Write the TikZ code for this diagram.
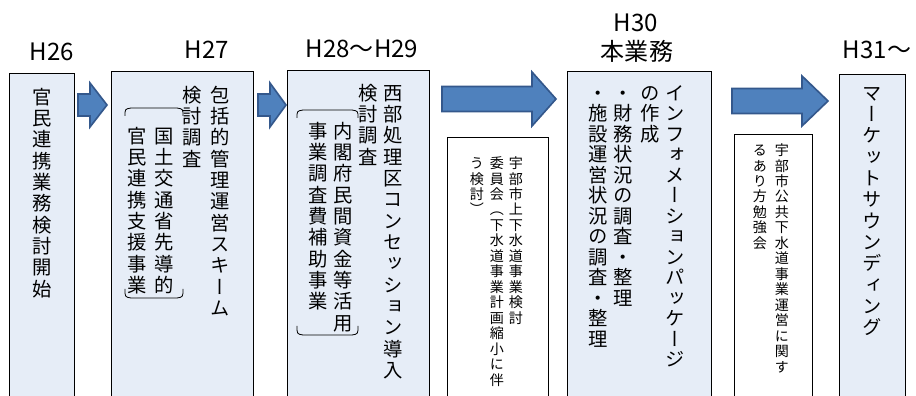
\documentclass[tikz,border=0pt]{standalone}
\usepackage{fontspec}
\newfontfamily\jpfont{Noto Sans CJK JP}
\newfontfamily\jpvert[RawFeature=+vert]{Noto Sans CJK JP}
\newlength\pxu
\setlength\pxu{0.3mm}

\definecolor{stagefill}{RGB}{230,237,247}
\definecolor{arrowfill}{RGB}{79,129,189}
\definecolor{arrowedge}{RGB}{52,88,140}

% vertical text, one glyph under the other
\def\tateend{TATEEND}
\newcommand\tate[2][18.2pt]{\vtop{\baselineskip=#1\lineskiplimit=-\maxdimen\lineskip=0pt\tateloop#2\tateend}}
\def\tateloop#1{\ifx#1\tateend\else\hbox to 1em{\vrule height .88em depth .12em width 0pt\hss#1\hss}\expandafter\tateloop\fi}

% block arrow: x start, x head, x tip, y centre, shaft half, head half
\newcommand\blockarrow[6]{%
  \draw[block-arrow] (#1,#4-#5) -- (#2,#4-#5) -- (#2,#4-#6) -- (#3,#4)
    -- (#2,#4+#6) -- (#2,#4+#5) -- (#1,#4+#5) -- cycle;}

\tikzstyle{year-node}=[inner sep=0pt,font=\jpfont\fontsize{20.5pt}{24pt}\selectfont]
\tikzstyle{stage-box}=[draw=black,line width=0.9pt,fill=stagefill,anchor=north west,inner sep=0pt]
\tikzstyle{note-box}=[draw=black,line width=0.9pt,fill=white,anchor=north west,inner sep=0pt]
\tikzstyle{tate-text}=[inner sep=0pt,anchor=north,font=\jpvert\fontsize{16.5pt}{18pt}\selectfont]
\tikzstyle{tate-small}=[inner sep=0pt,anchor=north,font=\jpvert\fontsize{12pt}{13pt}\selectfont]
\tikzstyle{bracket-line}=[draw=black,line width=0.7pt]
\tikzstyle{block-arrow}=[fill=arrowfill,draw=arrowedge,line width=1.4pt,line join=miter]

\begin{document}
\begin{tikzpicture}[x=1\pxu,y=-1\pxu]
        \path[use as bounding box] (0,0) rectangle (916,396);
        \clip (0,0) rectangle (916,396);

        \begin{scope}
            \node (y26)[year-node] at (52,52) {H26};
            \node (y27)[year-node] at (207,50) {H27};
            \node (y28)[year-node] at (362,49) {H28～H29};
            \node (y30)[year-node] at (636,23) {H30};
            \node (y30b)[year-node] at (637,51) {本業務};
            \node (y31)[year-node] at (877,50) {H31～};
        \end{scope}

        \begin{scope}
            \node (b26)[stage-box,minimum width=65\pxu,minimum height=340\pxu] at (9,73) {};
            \node (b27)[stage-box,minimum width=142\pxu,minimum height=340\pxu] at (111,71) {};
            \node (b28)[stage-box,minimum width=142\pxu,minimum height=340\pxu] at (287,70) {};
            \node (b30)[stage-box,minimum width=144\pxu,minimum height=340\pxu] at (567,71) {};
            \node (b31)[stage-box,minimum width=66\pxu,minimum height=340\pxu] at (839,74) {};
            \node (n1)[note-box,minimum width=101\pxu,minimum height=280\pxu] at (447,137) {};
            \node (n2)[note-box,minimum width=78\pxu,minimum height=280\pxu] at (734,134) {};
        \end{scope}

        \begin{scope}
            \node (t26)[tate-text] at (42,87) {\tate{官民連携業務検討開始}};
            \node (t27a)[tate-text] at (220,85) {\tate{包括的管理運営スキーム}};
            \node (t27b)[tate-text] at (192,85) {\tate{検討調査}};
            \node (t27c)[tate-text] at (164,126) {\tate{国土交通省先導的}};
            \node (t27d)[tate-text] at (137,126) {\tate{官民連携支援事業}};
            \node (t28a)[tate-text] at (393,83) {\tate{西部処理区コンセッション導入}};
            \node (t28b)[tate-text] at (368,83) {\tate{検討調査}};
            \node (t28c)[tate-text] at (343,121) {\tate{内閣府民間資金等活用}};
            \node (t28d)[tate-text] at (318,121) {\tate{事業調査費補助事業}};
            \node (t30a)[tate-text] at (675,83) {\tate[17.5pt]{インフォメーションパッケージ}};
            \node (t30b)[tate-text] at (650,83) {\tate[17.5pt]{の作成}};
            \node (t30c)[tate-text] at (623,83) {\tate[17.5pt]{・財務状況の調査・整理}};
            \node (t30d)[tate-text] at (598,83) {\tate[17.5pt]{・施設運営状況の調査・整理}};
            \node (t31)[tate-text] at (872,83) {\tate{マーケットサウンディング}};
            \node (s1a)[tate-small] at (516,156) {\tate[13.2pt]{宇部市上下水道事業検討}};
            \node (s1b)[tate-small] at (497,156) {\tate[13.2pt]{委員会（下水道事業計画縮小に伴}};
            \node (s1c)[tate-small] at (477,156) {\tate[13.2pt]{う検討）}};
            \node (s2a)[tate-small] at (782,143) {\tate[13.2pt]{宇部市公共下水道事業運営に関す}};
            \node (s2b)[tate-small] at (760,143) {\tate[13.2pt]{るあり方勉強会}};
        \end{scope}

        % brackets round the subsidy names
        \path[bracket-line] (125,116) .. controls (125,109) .. (131,108) -- (177,108) .. controls (183,109) .. (183,116);
        \path[bracket-line] (125,289) .. controls (125,297) .. (131,298) -- (177,298) .. controls (183,297) .. (183,289);
        \path[bracket-line] (297,118) .. controls (297,111) .. (303,110) -- (352,110) .. controls (358,111) .. (358,118);
        \path[bracket-line] (297,326) .. controls (297,334) .. (303,335) -- (352,335) .. controls (358,334) .. (358,326);

        \blockarrow{78}{90}{107}{105}{11}{22}
        \blockarrow{258}{270}{286}{105}{11}{22}
        \blockarrow{442}{532}{556}{99}{12.5}{27}
        \blockarrow{732}{802}{828}{101}{12.5}{25}

    \end{tikzpicture}
\end{document}
